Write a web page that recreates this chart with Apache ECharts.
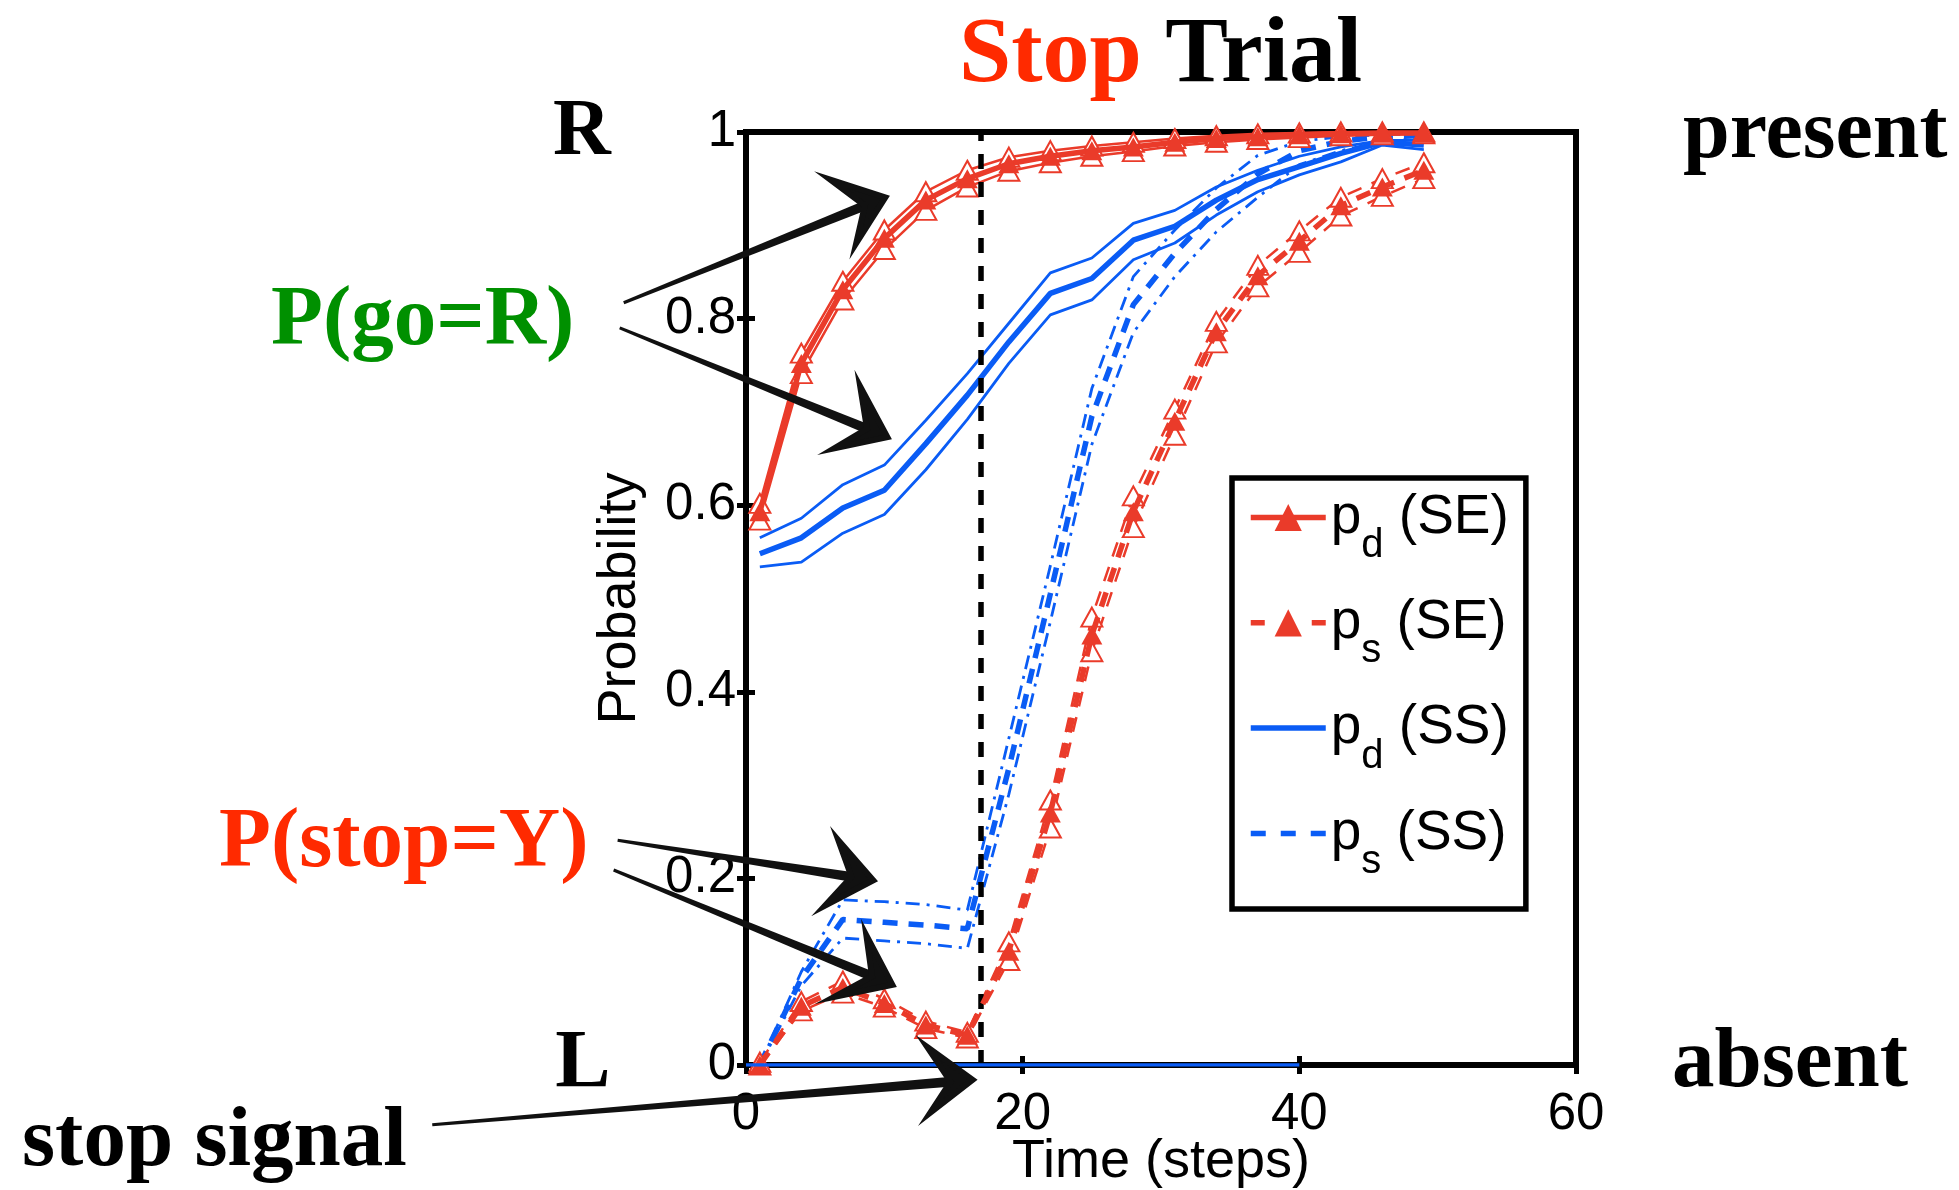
<!DOCTYPE html>
<html><head><meta charset="utf-8">
<script src="https://cdn.jsdelivr.net/npm/echarts@6/dist/echarts.min.js"></script>
<style>html,body{margin:0;padding:0;background:#fff;}#chart{width:1959px;height:1190px;}</style>
</head><body><div id="chart"></div>
<script>
// ---------------- data ----------------
const timeSteps = [1, 4, 7, 10, 13, 16, 19, 22, 25, 28, 31, 34, 37, 40, 43, 46, 49];

const pdSE      = [0.593, 0.752, 0.831, 0.886, 0.927, 0.950, 0.966, 0.974, 0.980, 0.984, 0.989, 0.993, 0.995, 0.997, 0.998, 0.999, 0.999];
const pdSEUpper = [0.602, 0.763, 0.840, 0.895, 0.936, 0.959, 0.973, 0.980, 0.985, 0.989, 0.993, 0.996, 0.998, 0.999, 1.000, 1.000, 1.000];
const pdSELower = [0.584, 0.741, 0.820, 0.874, 0.916, 0.941, 0.958, 0.967, 0.974, 0.979, 0.985, 0.989, 0.992, 0.994, 0.996, 0.997, 0.998];

const psSE      = [0.000, 0.063, 0.083, 0.066, 0.043, 0.032, 0.122, 0.270, 0.461, 0.593, 0.690, 0.786, 0.846, 0.883, 0.921, 0.941, 0.959];
const psSEUpper = [0.003, 0.068, 0.090, 0.071, 0.047, 0.035, 0.132, 0.284, 0.480, 0.610, 0.703, 0.797, 0.857, 0.894, 0.930, 0.950, 0.967];
const psSELower = [0.000, 0.058, 0.077, 0.062, 0.039, 0.029, 0.112, 0.254, 0.443, 0.576, 0.675, 0.774, 0.834, 0.871, 0.910, 0.931, 0.950];

const pdSS      = [0.548, 0.565, 0.597, 0.616, 0.666, 0.718, 0.775, 0.827, 0.843, 0.884, 0.899, 0.927, 0.949, 0.963, 0.977, 0.989, 0.986];
const pdSSUpper = [0.565, 0.586, 0.622, 0.643, 0.691, 0.741, 0.795, 0.849, 0.865, 0.902, 0.916, 0.941, 0.959, 0.974, 0.984, 0.991, 0.991];
const pdSSLower = [0.534, 0.539, 0.570, 0.590, 0.638, 0.692, 0.752, 0.804, 0.820, 0.863, 0.881, 0.911, 0.936, 0.954, 0.968, 0.986, 0.981];

const psSS      = [0.000, 0.093, 0.156, 0.153, 0.150, 0.146, 0.318, 0.505, 0.695, 0.815, 0.870, 0.917, 0.955, 0.980, 0.990, 0.995, 0.996];
const psSSUpper = [0.000, 0.100, 0.177, 0.175, 0.172, 0.166, 0.350, 0.535, 0.725, 0.845, 0.895, 0.940, 0.975, 0.990, 0.995, 0.997, 0.998];
const psSSLower = [0.000, 0.085, 0.136, 0.133, 0.130, 0.125, 0.290, 0.475, 0.665, 0.785, 0.845, 0.893, 0.930, 0.965, 0.980, 0.990, 0.993];

const zeroLineX = [0, 40];
const zeroLineY = [0, 0];
const stopSignalStep = 17;

const xTickLabels = ['0', '20', '40', '60'];
const yTickLabels = ['0', '0.2', '0.4', '0.6', '0.8', '1'];
const legendNames = ['p_d (SE)', 'p_s (SE)', 'p_d (SS)', 'p_s (SS)'];

// annotation arrows in data units: tail, head, and the two ends of the arrow head
const arrowTails = [[-8.84, 0.817], [-9.13, 0.790], [-9.28, 0.241], [-9.57, 0.209], [-22.68, -0.064]];
const arrowHeads = [[10.07, 0.930], [10.22, 0.673], [9.20, 0.198], [10.58, 0.086], [16.38, -0.016]];
const arrowWingA = [[6.09, 0.949], [8.26, 0.727], [6.67, 0.241], [8.70, 0.139], [13.12, 0.019]];
const arrowWingB = [[7.97, 0.881], [6.38, 0.661], [5.72, 0.171], [6.38, 0.073], [13.33, -0.051]];

// ---------------- style ----------------
const RED = '#EA3B2A';
const BLUE = '#0A5CF5';
const SANS = 'Liberation Sans';
const SERIF = 'Liberation Serif';
const DASH = [15, 11];
const DASHDOT = [14, 7, 3, 7];

function pairs(ys) { return timeSteps.map((x, i) => [x, ys[i]]); }

function lineSeries(name, ys, color, width, type, symbol, z) {
  return {
    name: name, type: 'line', data: pairs(ys), z: z,
    symbol: symbol || 'none', symbolSize: [21, 19], showSymbol: !!symbol,
    lineStyle: { color: color, width: width, type: type || 'solid' },
    itemStyle: { color: color, borderWidth: 2.5 },
    emphasis: { disabled: true }, silent: true, animation: false
  };
}

const series = [
  lineSeries('pdSS_lo', pdSSLower, BLUE, 2.8, 'solid', null, 2),
  lineSeries('pdSS_hi', pdSSUpper, BLUE, 2.8, 'solid', null, 2),
  lineSeries(legendNames[2], pdSS, BLUE, 5.5, 'solid', null, 3),
  lineSeries('psSS_lo', psSSLower, BLUE, 2.8, DASHDOT, null, 2),
  lineSeries('psSS_hi', psSSUpper, BLUE, 2.8, DASHDOT, null, 2),
  lineSeries(legendNames[3], psSS, BLUE, 5.5, DASH, null, 3),
  lineSeries('pdSE_lo', pdSELower, RED, 2.5, 'solid', 'emptyTriangle', 4),
  lineSeries('pdSE_hi', pdSEUpper, RED, 2.5, 'solid', 'emptyTriangle', 4),
  lineSeries(legendNames[0], pdSE, RED, 5.5, 'solid', 'triangle', 5),
  lineSeries('psSE_lo', psSELower, RED, 2.5, DASH, 'emptyTriangle', 4),
  lineSeries('psSE_hi', psSEUpper, RED, 2.5, DASH, 'emptyTriangle', 4),
  lineSeries(legendNames[1], psSE, RED, 5.5, DASH, 'triangle', 5),
  {
    name: 'zero', type: 'line', z: 6, silent: true, animation: false,
    data: zeroLineX.map((x, i) => [x, zeroLineY[i]]), symbol: 'none',
    lineStyle: { color: BLUE, width: 3.5 },
    markLine: {
      silent: true, symbol: ['none', 'none'], animation: false,
      label: { show: false },
      lineStyle: { color: '#000', width: 5.5, type: [15, 13] },
      emphasis: { disabled: true },
      data: [{ xAxis: stopSignalStep }]
    }
  }
];

const tickStyle = { show: true, inside: true, length: 9, lineStyle: { color: '#000', width: 5 } };

const option = {
  animation: false,
  backgroundColor: '#fff',
  textStyle: { fontFamily: SANS },
  grid: { left: 746, right: 383, top: 132, bottom: 125, show: true, borderColor: '#000', borderWidth: 6,
          backgroundColor: 'transparent', containLabel: false, outerBoundsMode: 'none' },
  xAxis: [
    { type: 'value', min: 0, max: 60, interval: 20, position: 'bottom',
      axisLine: { show: false }, axisTick: tickStyle, splitLine: { show: false },
      axisLabel: { margin: 24, fontSize: 51, color: '#000', fontFamily: SANS, formatter: v => xTickLabels[Math.round(v / 20)] },
      name: 'Time (steps)', nameLocation: 'middle', nameGap: 70, nameMoveOverlap: false,
      nameTextStyle: { fontSize: 54, color: '#000', fontFamily: SANS } },
    { type: 'value', min: 0, max: 60, interval: 20, position: 'top',
      axisLine: { show: false }, axisTick: tickStyle, splitLine: { show: false }, axisLabel: { show: false } }
  ],
  yAxis: [
    { type: 'value', min: 0, max: 1, interval: 0.2, position: 'left',
      axisLine: { show: false }, axisTick: tickStyle, splitLine: { show: false },
      axisLabel: { margin: 10, fontSize: 51, color: '#000', fontFamily: SANS, formatter: v => yTickLabels[Math.round(v / 0.2)] },
      name: 'Probability', nameLocation: 'middle', nameGap: 99, nameMoveOverlap: false,
      nameTextStyle: { fontSize: 54, color: '#000', fontFamily: SANS } },
    { type: 'value', min: 0, max: 1, interval: 0.2, position: 'right',
      axisLine: { show: false }, axisTick: tickStyle, splitLine: { show: false }, axisLabel: { show: false } }
  ],
  legend: {
    orient: 'vertical', left: 1232, top: 478,
    itemWidth: 75, itemHeight: 34, itemGap: 12.3,
    padding: [12, 17, 10, 16],
    backgroundColor: '#fff', borderColor: '#000', borderWidth: 5.5, borderRadius: 0,
    selectedMode: false,
    lineStyle: { width: 5.5 },
    data: [
      { name: legendNames[0] },
      { name: legendNames[1], lineStyle: { width: 5.5, type: [14, 47] } },
      { name: legendNames[2], itemStyle: { opacity: 0 } },
      { name: legendNames[3], itemStyle: { opacity: 0 }, lineStyle: { width: 5.5, type: [15, 15] } }
    ],
    formatter: function (name) {
      const m = name.match(/^p_(\w)(.*)$/);
      return '{m|p}{s|' + m[1] + '}{m|' + m[2] + '}';
    },
    textStyle: {
      color: '#000', fontFamily: SANS,
      rich: {
        m: { fontSize: 55, lineHeight: 55, fontFamily: SANS, color: '#000', verticalAlign: 'top' },
        s: { fontSize: 40, lineHeight: 40, fontFamily: SANS, color: '#000', verticalAlign: 'top', padding: [36, 0, 17, 0] }
      }
    }
  },
  series: series
};

const chart = echarts.init(document.getElementById('chart'), null, { renderer: 'canvas' });
chart.setOption(option);

// ---------------- annotations ----------------
function toPx(p) { return chart.convertToPixel({ xAxisIndex: 0, yAxisIndex: 0 }, p); }

const graphics = [];
for (let i = 0; i < arrowTails.length; i++) {
  const T = toPx(arrowTails[i]), H = toPx(arrowHeads[i]);
  const A = toPx(arrowWingA[i]), B = toPx(arrowWingB[i]);
  const dx = H[0] - T[0], dy = H[1] - T[1];
  const len = Math.sqrt(dx * dx + dy * dy);
  const ux = dx / len, uy = dy / len, nx = -uy, ny = ux;
  const S = [H[0] - ux * 10, H[1] - uy * 10];
  graphics.push({
    type: 'polygon', silent: true, z: 100,
    shape: { points: [
      [T[0] + nx * 1.5, T[1] + ny * 1.5], [S[0] + nx * 5, S[1] + ny * 5],
      [S[0] - nx * 5, S[1] - ny * 5], [T[0] - nx * 1.5, T[1] - ny * 1.5]] },
    style: { fill: '#111' }
  });
  graphics.push({
    type: 'polygon', silent: true, z: 100,
    shape: { points: [A, H, B, [H[0] - ux * 22, H[1] - uy * 22]] },
    style: { fill: '#111', stroke: '#111', lineWidth: 6, lineJoin: 'miter', miterLimit: 10 }
  });
}

function txt(text, x, y, size, color, align) {
  return { type: 'text', silent: true, z: 100, x: x, y: y,
    style: { text: text, fill: color, font: 'bold ' + size + 'px "' + SERIF + '"', align: align || 'left', verticalAlign: 'middle' } };
}

graphics.push({
  type: 'text', silent: true, z: 100, x: 1160.5, y: 57,
  style: {
    text: '{r|Stop} {k|Trial}', align: 'center', verticalAlign: 'middle',
    font: 'bold 94px "' + SERIF + '"', fill: '#000',
    rich: {
      r: { fill: '#FF2A00', fontSize: 94, fontWeight: 'bold', fontFamily: SERIF },
      k: { fill: '#000', fontSize: 94, fontWeight: 'bold', fontFamily: SERIF }
    }
  }
});
graphics.push(txt('R', 582, 133, 80, '#000', 'center'));
graphics.push(txt('L', 583, 1065, 83, '#000', 'center'));
graphics.push(txt('present', 1683, 135, 84, '#000', 'left'));
graphics.push(txt('absent', 1672, 1064, 85, '#000', 'left'));
graphics.push(txt('P(go=R)', 271, 322, 85, '#009000', 'left'));
graphics.push(txt('P(stop=Y)', 219, 844, 85, '#FF2A00', 'left'));
graphics.push(txt('stop signal', 22, 1143, 85, '#000', 'left'));

chart.setOption({ graphic: graphics });
</script></body></html>
